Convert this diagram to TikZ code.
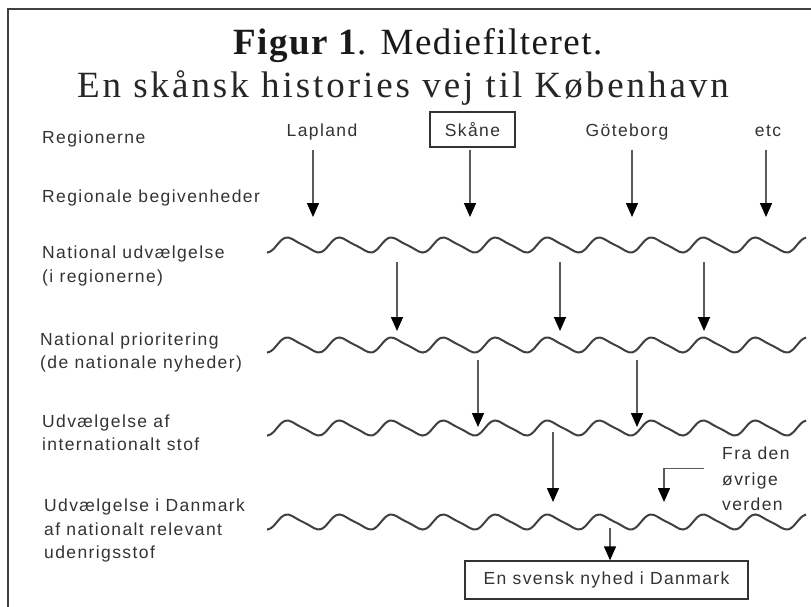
\documentclass[tikz,border=0pt]{standalone}
\usepackage{fontspec}
\setmainfont{Liberation Serif}
\newfontfamily\labfont[LetterSpace=8]{Liberation Sans}
\newfontfamily\titlefontA[LetterSpace=4]{Liberation Serif}
\newfontfamily\titlefontB[LetterSpace=8]{Liberation Serif}
\usetikzlibrary{arrows.meta}
\definecolor{txtgray}{HTML}{333333}
\definecolor{shaftgray}{HTML}{5A5A5A}
\definecolor{wavegray}{HTML}{404040}
\begin{document}
\begin{tikzpicture}[x=1pt,y=-1pt,
  lbl/.style={anchor=base west, inner sep=0pt, text=txtgray, font=\labfont\fontsize{17.5}{17.5}\selectfont},
  toplbl/.style={anchor=base, inner sep=0pt, text=txtgray, font=\labfont\fontsize{17.5}{17.5}\selectfont},
  boxlbl/.style={draw=txtgray, line width=1.3pt, text=txtgray, font=\labfont\fontsize{17.5}{17.5}\selectfont, inner sep=0pt},
  arr/.style={draw=shaftgray, line width=1.5pt, -{Triangle[width=12pt,length=14pt,color=black]}},
  wavy/.style={draw=wavegray, line width=2pt, line join=round},
  frame/.style={draw=black!75, line width=1.5pt}]
\useasboundingbox (0,0) rectangle (811,607);
\fill[white] (0,0) rectangle (811,607);
\draw[frame] (811,9) -- (8,9) -- (8,607);

% titles
\node[anchor=base, inner sep=0pt, text=black!90, font=\titlefontA\fontsize{37}{37}\selectfont] (t1) at (418,55) {\textbf{Figur 1}. Mediefilteret.};
\node[anchor=base, inner sep=0pt, text=black!85, font=\titlefontB\fontsize{37}{37}\selectfont] (t2) at (403,98) {En skånsk histories vej til København};

% left labels
\node[lbl] (l1) at (42,143) {Regionerne};
\node[lbl] (l2) at (42,202) {Regionale begivenheder};
\node[lbl] (l3a) at (42,258) {National udvælgelse};
\node[lbl] (l3b) at (42,282) {(i regionerne)};
\node[lbl] (l4a) at (40,345) {National prioritering};
\node[lbl] (l4b) at (40,368) {(de nationale nyheder)};
\node[lbl] (l5a) at (42,427) {Udvælgelse af};
\node[lbl] (l5b) at (42,450) {internationalt stof};
\node[lbl] (l6a) at (44,511) {Udvælgelse i Danmark};
\node[lbl] (l6b) at (44,535) {af nationalt relevant};
\node[lbl] (l6c) at (44,558) {udenrigsstof};

% top labels
\node[toplbl] (lap) at (322,136) {Lapland};
\node[boxlbl, minimum width=85pt, minimum height=35pt] (sk) at (472.5,129.5) {Skåne};
\node[toplbl] (got) at (627,136) {Göteborg};
\node[toplbl] (etc) at (768,136) {etc};

% wavy filter lines
\foreach \yy in {245,345,428,522}{
  \draw[wavy] plot[smooth, domain=267:806, samples=150] (\x, {\yy - 7*cos((\x-290)*6.9231) + 1.5*sin((\x-290)*13.846)});
}

% arrow coordinates
\coordinate (a1s) at (313,150); \coordinate (a1e) at (313,217);
\coordinate (a2s) at (470,150); \coordinate (a2e) at (470,217);
\coordinate (a3s) at (632,150); \coordinate (a3e) at (632,217);
\coordinate (a4s) at (766,150); \coordinate (a4e) at (766,217);
\coordinate (b1s) at (397,262); \coordinate (b1e) at (397,331);
\coordinate (b2s) at (560,262); \coordinate (b2e) at (560,331);
\coordinate (b3s) at (704,262); \coordinate (b3e) at (704,331);
\coordinate (c1s) at (478,360); \coordinate (c1e) at (478,427);
\coordinate (c2s) at (637,360); \coordinate (c2e) at (637,427);
\coordinate (d1s) at (553,432); \coordinate (d1e) at (553,502);
\coordinate (e1s) at (704,468.5); \coordinate (e1m) at (664,468.5); \coordinate (e1e) at (664,502);
\coordinate (f1s) at (610,528);

\foreach \p in {a1,a2,a3,a4,b1,b2,b3,c1,c2,d1}{
  \draw[arr] (\p s) -- (\p e);
}
\draw[arr, line join=miter] (e1s) -- (e1m) -- (e1e);

% other world label
\node[lbl] (fra1) at (722,459) {Fra den};
\node[lbl] (fra2) at (722,485) {øvrige};
\node[lbl] (fra3) at (722,510) {verden};

% result box
\node[boxlbl, minimum width=283pt, minimum height=38pt] (res) at (606.5,580) {En svensk nyhed i Danmark};
\draw[arr] (f1s) -- (res.north -| f1s);
\end{tikzpicture}
\end{document}
